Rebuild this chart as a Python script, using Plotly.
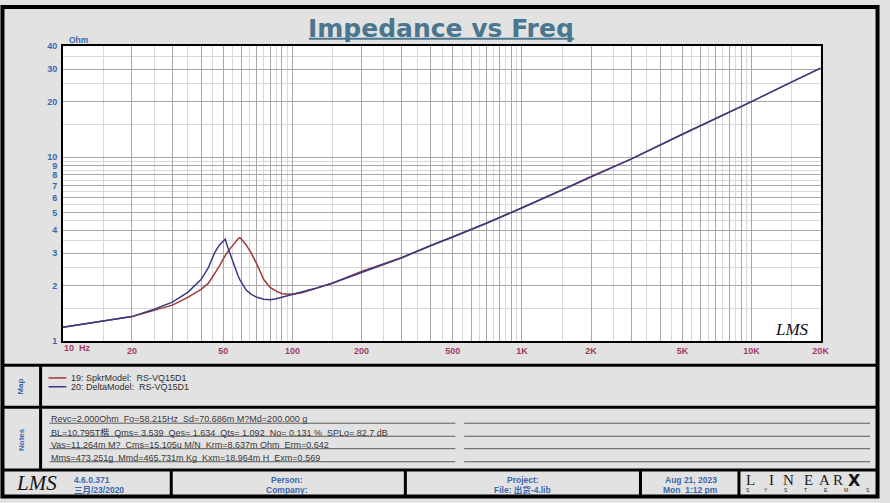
import plotly.graph_objects as go

# ---------------- data ----------------
freq_hz = [10, 12, 15, 20, 25, 30, 35, 40, 43, 46, 48, 50, 51, 52, 54, 56, 58, 59, 60,
           63, 66, 70, 75, 80, 85, 90, 95, 100, 110, 125, 150, 200, 250, 300, 400,
           500, 700, 1000, 1500, 2000, 3000, 5000, 7000, 10000, 15000, 20000]

spkr_model_ohm = [1.19, 1.23, 1.28, 1.36, 1.47, 1.57, 1.73, 1.91, 2.06, 2.33, 2.55, 2.80, 2.92,
                  3.03, 3.22, 3.42, 3.60, 3.65, 3.58,
                  3.32, 3.03, 2.62, 2.16, 1.96, 1.87, 1.81, 1.80, 1.80, 1.83, 1.92, 2.07,
                  2.39, 2.64, 2.85, 3.31,
                  3.68, 4.37, 5.29, 6.64, 7.84, 9.77, 13.3, 16.2, 20.0, 25.6, 30.4]

delta_model_ohm = [1.19, 1.23, 1.28, 1.36, 1.49, 1.63, 1.84, 2.16, 2.50, 3.05, 3.32, 3.52, 3.58,
                   3.30, 2.88, 2.52, 2.26, 2.16, 2.08,
                   1.89, 1.80, 1.73, 1.69, 1.68, 1.70, 1.73, 1.77, 1.80, 1.85, 1.93, 2.07,
                   2.37, 2.62, 2.84, 3.30,
                   3.68, 4.37, 5.29, 6.64, 7.84, 9.77, 13.3, 16.2, 20.0, 25.6, 30.4]

series_names = ["19: SpkrModel:\u00a0\u00a0RS-VQ15D1", "20: DeltaModel:\u00a0\u00a0RS-VQ15D1"]
series_colors = ["#a03838", "#3a3a86"]

x_major = [m * d for d in (10, 100, 1000) for m in range(1, 10)] + [10000, 20000]
x_minor = [(m + 0.5) * d for d in (10, 100, 1000) for m in range(1, 10)] + [15000]
x_label_vals = [20, 50, 100, 200, 500, 1000, 2000, 5000, 10000, 20000]
x_label_text = ["20", "50", "100", "200", "500", "1K", "2K", "5K", "10K", "20K"]

y_major = [1, 2, 3, 4, 5, 6, 7, 8, 9, 10, 20, 30, 40]
y_minor = [1.5, 2.5, 3.5, 4.5, 5.5, 6.5, 7.5, 8.5, 9.5, 15, 25, 35]
y_label_text = ["1", "2", "3", "4", "5", "6", "7", "8", "9", "10", "20", "30", "40"]

notes_lines = [
    "Revc=2.000Ohm\u00a0\u00a0Fo=58.215Hz\u00a0\u00a0Sd=70.686m M?Md=200.000 g",
    "BL=10.795T楷\u00a0\u00a0Qms= 3.539\u00a0\u00a0Qes= 1.634\u00a0\u00a0Qts= 1.092\u00a0\u00a0No= 0.131 %\u00a0\u00a0SPLo= 82.7 dB",
    "Vas=11.264m M?\u00a0\u00a0Cms=15.105u M/N\u00a0\u00a0Krm=8.637m Ohm\u00a0\u00a0Erm=0.642",
    "Mms=473.251g\u00a0\u00a0Mmd=465.731m Kg\u00a0\u00a0Kxm=18.964m H\u00a0\u00a0Exm=0.569",
]

# ---------------- layout helpers ----------------
W, H = 890, 503


def X(px):
    return px / W


def Y(py):
    return 1 - py / H


BLUE = "#3a68ad"
XLAB = "#a33a62"
SANS = "Liberation Sans, Arial, Noto Sans CJK SC, sans-serif"

fig = go.Figure()
for name, vals, col in zip(series_names, [spkr_model_ohm, delta_model_ohm], series_colors):
    fig.add_trace(go.Scatter(x=freq_hz, y=vals, mode="lines", name=name,
                             line=dict(color=col, width=1.5), showlegend=False,
                             hoverinfo="skip"))

x_ticktext = [x_label_text[x_label_vals.index(v)] if v in x_label_vals else "" for v in x_major]

fig.update_layout(
    width=W, height=H, autosize=False,
    margin=dict(l=0, r=0, t=0, b=0),
    paper_bgcolor="#e2e2e2",
    plot_bgcolor="#ffffff",
    xaxis=dict(
        type="log", range=[1, 4.30103], domain=[X(63.5), X(829)],
        tickmode="array", tickvals=x_major, ticktext=x_ticktext,
        showgrid=True, gridcolor="#a8a8a8", gridwidth=1,
        minor=dict(tickmode="array", tickvals=x_minor, showgrid=True,
                   gridcolor="#d8d8d8", gridwidth=1),
        showline=True, mirror=True, linecolor="#000000", linewidth=1.5,
        ticks="", ticklabelstandoff=0, zeroline=False,
        tickfont=dict(family=SANS, size=9, color=XLAB, weight="bold"),
    ),
    yaxis=dict(
        type="log", range=[0, 1.60206], domain=[Y(343), Y(42)],
        tickmode="array", tickvals=y_major, ticktext=y_label_text,
        showgrid=True, gridcolor="#a8a8a8", gridwidth=1,
        minor=dict(tickmode="array", tickvals=y_minor, showgrid=True,
                   gridcolor="#d8d8d8", gridwidth=1),
        showline=True, mirror=True, linecolor="#000000", linewidth=1.5,
        ticks="", ticklabelstandoff=2, zeroline=False,
        tickfont=dict(family=SANS, size=9, color=BLUE, weight="bold"),
    ),
    font=dict(family=SANS),
)

ann = []


def text(x, y, s, size=9, color="#333333", bold=False, xanchor="left", family=SANS,
         angle=0, italic=False):
    ann.append(dict(x=X(x), y=Y(y), xref="paper", yref="paper", text=s, showarrow=False,
                    xanchor=xanchor, yanchor="middle", textangle=angle,
                    font=dict(family=family, size=size, color=color,
                              weight="bold" if bold else "normal",
                              style="italic" if italic else "normal")))


# title
text(446, 23.5, "Impedance vs Freq", size=25, color="#4a7690", bold=True, xanchor="center",
     family="DejaVu Sans, Verdana, sans-serif")
text(68, 36, "Ohm", size=8.5, color=BLUE, bold=True)
text(63, 349.5, "10\u00a0\u00a0Hz", size=9, color=XLAB, bold=True)
text(800, 331, "LMS", size=17, color="#111111", italic=True,
     family="Liberation Serif, serif", xanchor="center")

# side labels
text(21, 389.5, "Map", size=8, color=BLUE, bold=True, xanchor="center", angle=-90)
text(21, 443, "Notes", size=8, color=BLUE, bold=True, xanchor="center", angle=-90)

# map legend
for i, (name, col) in enumerate(zip(series_names, series_colors)):
    text(70, 381 + 9 * i, name, size=9, color="#303030")

# notes
for i, line in enumerate(notes_lines):
    text(50, 422.5 + 13.2 * i, line, size=9, color="#383838")

# footer
text(37, 488, "LMS", size=21, color="#111111", italic=True,
     family="Liberation Serif, serif", xanchor="center")
text(73, 484.5, "4.6.0.371", size=8.5, color=BLUE, bold=True)
text(73, 494.5, "三月/23/2020", size=8.5, color=BLUE, bold=True)
text(290, 484.5, "Person:", size=8.5, color=BLUE, bold=True, xanchor="center")
text(290, 494.5, "Company:", size=8.5, color=BLUE, bold=True, xanchor="center")
text(528, 484.5, "Project:", size=8.5, color=BLUE, bold=True, xanchor="center")
text(528, 494.5, "File: 出货-4.lib", size=8.5, color=BLUE, bold=True, xanchor="center")
text(698, 484.5, "Aug 21, 2023", size=8.5, color=BLUE, bold=True, xanchor="center")
text(698, 494.5, "Mon\u00a0\u00a01:12 pm", size=8.5, color=BLUE, bold=True, xanchor="center")

for ch, cx in zip("LINEAR", [758, 779, 797, 817, 833, 847]):
    text(cx, 485, ch, size=15, color="#222222", xanchor="center",
         family="Liberation Serif, serif")
text(863, 485, "X", size=16, color="#111111", bold=True, xanchor="center",
     family="DejaVu Sans, sans-serif")
for ch, cx in zip("SYSTEMS", [756, 774, 794, 814, 834, 855, 877]):
    text(cx, 495, ch, size=5, color="#222222", xanchor="center")

fig.update_layout(annotations=ann)

# frame / dividers
shapes = []


def hline(x0, x1, y, w=3, c="#000000"):
    shapes.append(dict(type="line", xref="paper", yref="paper", x0=X(x0), x1=X(x1),
                       y0=Y(y), y1=Y(y), line=dict(color=c, width=w), layer="above"))


def vline(x, y0, y1, w=3, c="#000000"):
    shapes.append(dict(type="line", xref="paper", yref="paper", x0=X(x), x1=X(x),
                       y0=Y(y0), y1=Y(y1), line=dict(color=c, width=w), layer="above"))


shapes.append(dict(type="rect", xref="paper", yref="paper", x0=X(2.5), x1=X(886.5),
                   y0=Y(2), y1=Y(501.5), line=dict(color="#000000", width=4),
                   layer="above"))
hline(2, 887, 367.5)
hline(2, 887, 410.5)
hline(2, 887, 474.5)
vline(41, 367, 475)
for fx in (173, 409.5, 647, 746.5):
    vline(fx, 474, 502)

# notes rules
for yy in (426.7, 440, 452.7, 466):
    hline(50, 460, yy, w=1, c="#5a5a5a")
    hline(469, 879, yy, w=1, c="#5a5a5a")

# title underline
hline(312, 580, 34.5, w=2, c="#4a7690")

# legend samples
for i, col in enumerate(series_colors):
    hline(49, 67, 380.5 + 9 * i, w=1.5, c=col)

fig.update_layout(shapes=shapes)

post = (
    "document.documentElement.style.overflow='hidden';"
    "document.body.style.overflow='hidden';"
    "document.body.style.margin='0px';document.body.style.padding='0px';"
)
fig.write_html("out.html", config={"displayModeBar": False, "responsive": False},
               post_script=post)
